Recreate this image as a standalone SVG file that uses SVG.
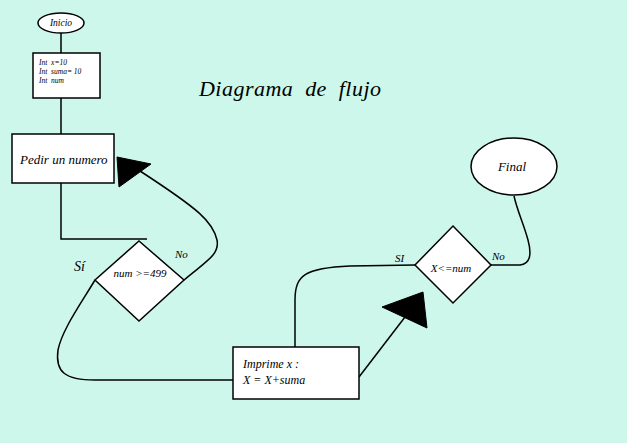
<svg xmlns="http://www.w3.org/2000/svg" width="627" height="443" viewBox="0 0 627 443">
<style>
.shape{fill:#ffffff;stroke:#000000;stroke-width:1.5}
.con{fill:none;stroke:#000000;stroke-width:1.5}
.head{fill:#000000;stroke:#000000;stroke-width:1}
text{font-family:"Liberation Serif","DejaVu Serif",serif;font-style:italic;fill:#000000;white-space:pre}
.s8{font-size:7.5px}
.s11{font-size:11px}
.s12{font-size:12px}
</style>
<rect x="0" y="0" width="627" height="443" fill="#ccf7ea"/>
<text x="199" y="96" font-size="22" textLength="182" lengthAdjust="spacing" xml:space="preserve">Diagrama  de  flujo</text>
<g id="connectors">
<line class="con" x1="61" y1="33" x2="61" y2="53"/>
<line class="con" x1="61" y1="98" x2="61" y2="134"/>
<polyline class="con" points="61,183 61,239 147,239"/>
<path class="con" d="M184,280 C205,262 220,255 217,240 C213,222 200,210 140,171"/>
<polygon class="head" points="117,157 151,164 119,187"/>
<path class="con" d="M95,280 C80,305 62,330 58,350 C55,372 65,380 95,380 L233,380"/>
<path class="con" d="M359,377 L405,317"/>
<polygon class="head" points="382,307 423,292 427,328"/>
<path class="con" d="M295,347 L295,300 C295,275 305,268 350,266 L415,265"/>
<path class="con" d="M491,265 L520,265 C530,264 532,255 528,240 C524,225 517,210 514,196"/>
</g>
<g id="inicio">
<ellipse class="shape" cx="61" cy="23" rx="23" ry="10"/>
<text x="61" y="25.5" font-size="9.5" text-anchor="middle">Inicio</text>
</g>
<g id="declaraciones">
<rect class="shape" x="33" y="53" width="67" height="45"/>
<text class="s8" x="39" y="65" xml:space="preserve">Int  x=10</text>
<text class="s8" x="39" y="74" xml:space="preserve">Int  suma= 10</text>
<text class="s8" x="39" y="83" xml:space="preserve">Int  num</text>
</g>
<g id="pedir">
<rect class="shape" x="12" y="134" width="102" height="49"/>
<text x="20" y="164" font-size="13">Pedir un numero</text>
</g>
<g id="decision1">
<polygon class="shape" points="139,241 184,280 139,321 95,280"/>
<text class="s11" x="140" y="277" text-anchor="middle">num &gt;=499</text>
<text x="74" y="271" font-size="14">Sí</text>
<text class="s11" x="175" y="258">No</text>
</g>
<g id="imprime">
<rect class="shape" x="233" y="347" width="126" height="52"/>
<text class="s12" x="243" y="368">Imprime x :</text>
<text class="s12" x="243" y="384">X = X+suma</text>
</g>
<g id="decision2">
<polygon class="shape" points="453,226 491,265 453,303 415,265"/>
<text class="s11" x="451" y="272" text-anchor="middle">X&lt;=num</text>
<text class="s11" x="395" y="262">SI</text>
<text class="s11" x="492" y="260">No</text>
</g>
<g id="final">
<ellipse class="shape" cx="514" cy="166.5" rx="43" ry="28.5"/>
<text x="512" y="171" font-size="13" text-anchor="middle">Final</text>
</g>
</svg>
